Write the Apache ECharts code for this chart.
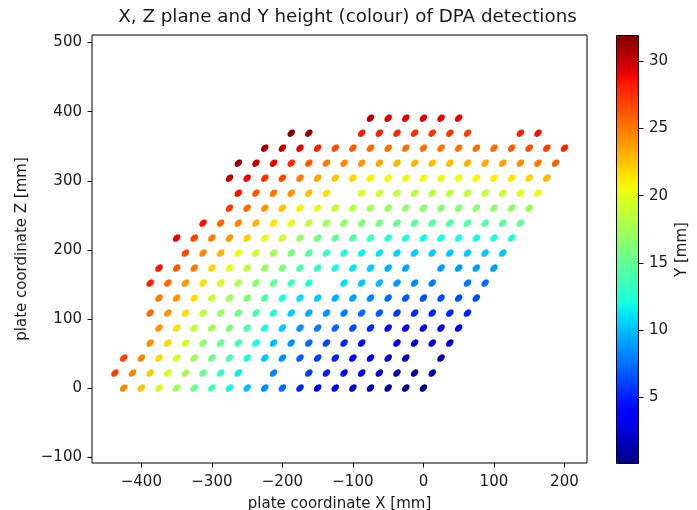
<!DOCTYPE html>
<html>
<head>
<meta charset="utf-8">
<script src="https://cdn.jsdelivr.net/npm/echarts@6/dist/echarts.min.js"></script>
<style>
html,body{margin:0;padding:0;background:#fff;}
#chart{width:697px;height:510px;}
</style>
</head>
<body>
<div id="chart"></div>
<script>
// ---- data (one entry per lattice row, bottom to top) ----
const rowZ = [0, 21.7, 43.4, 65.1, 86.8, 108.5, 130.2, 151.9, 173.6, 195.3, 217, 238.7, 260.4, 282.1, 303.8, 325.5, 347.2, 368.9, 390.6];

const rowX = [
  [-425,-400,-375,-350,-325,-300,-275,-250,-225,-200,-175,-150,-125,-100,-75,-50,-25,0],
  [-437.5,-412.5,-387.5,-362.5,-337.5,-312.5,-287.5,-262.5,-212.5,-162.5,-137.5,-112.5,-87.5,-62.5,-37.5,-12.5,12.5],
  [-425,-400,-375,-350,-325,-300,-275,-250,-225,-200,-175,-150,-125,-100,-75,-50,-25,25],
  [-387.5,-362.5,-337.5,-312.5,-287.5,-262.5,-237.5,-212.5,-187.5,-162.5,-137.5,-112.5,-87.5,-37.5,-12.5,12.5,37.5],
  [-375,-350,-325,-300,-275,-250,-225,-200,-175,-150,-125,-100,-75,-50,-25,0,25,50],
  [-387.5,-362.5,-337.5,-312.5,-287.5,-262.5,-237.5,-212.5,-187.5,-162.5,-137.5,-112.5,-87.5,-62.5,-37.5,-12.5,12.5,37.5,62.5],
  [-375,-350,-325,-300,-275,-250,-225,-200,-175,-150,-125,-100,-75,-50,-25,0,25,50,75],
  [-387.5,-362.5,-337.5,-312.5,-287.5,-262.5,-237.5,-212.5,-187.5,-162.5,-112.5,-87.5,-62.5,-37.5,-12.5,12.5,62.5,87.5],
  [-375,-350,-325,-300,-275,-250,-225,-200,-175,-150,-125,-100,-75,-50,-25,25,50,75,100],
  [-337.5,-312.5,-287.5,-262.5,-237.5,-212.5,-187.5,-162.5,-137.5,-112.5,-87.5,-62.5,-37.5,-12.5,12.5,37.5,62.5,87.5,112.5],
  [-350,-325,-300,-275,-250,-225,-200,-175,-150,-125,-100,-75,-50,-25,0,25,50,75,100,125],
  [-312.5,-287.5,-262.5,-237.5,-212.5,-187.5,-162.5,-137.5,-112.5,-87.5,-62.5,-37.5,-12.5,12.5,37.5,62.5,87.5,112.5,137.5],
  [-275,-250,-225,-200,-175,-150,-125,-100,-75,-50,-25,0,25,50,75,100,125,150],
  [-262.5,-237.5,-212.5,-187.5,-162.5,-137.5,-87.5,-62.5,-37.5,-12.5,12.5,37.5,62.5,87.5,112.5,137.5,162.5],
  [-275,-250,-225,-200,-175,-150,-125,-100,-75,-50,-25,0,25,50,75,100,125,150,175],
  [-262.5,-237.5,-212.5,-187.5,-162.5,-137.5,-112.5,-87.5,-62.5,-37.5,-12.5,12.5,37.5,62.5,87.5,112.5,137.5,162.5,187.5],
  [-225,-200,-175,-150,-125,-100,-75,-50,-25,0,25,50,75,100,125,150,175,200],
  [-187.5,-162.5,-87.5,-62.5,-37.5,-12.5,12.5,37.5,62.5,137.5,162.5],
  [-75,-50,-25,0,25,50]
];

const rowY = [
  [24.5,22.5,19.5,17.5,15.5,13.7,11.8,10,8.5,7.3,5.2,4,2.8,2,1.4,0.8,0.4,0.1],
  [27,24.5,22.3,19.7,17.5,15.2,13.2,11.5,8.3,6,5,3.9,2.8,2.2,1.4,1.1,0.8],
  [27,24.5,21.8,19.5,17.3,15.5,14,12.3,10.3,8.6,7,6,5,3.8,2.7,1.8,1.5,1.3],
  [24.3,21.8,19.3,16.8,15.3,13.8,12,10,8.6,7.3,6.3,5.3,4.3,2.9,2.3,2.2,2.1],
  [24,21.5,19,17.5,16,14,12.3,10.3,8.7,8,7.2,6.3,5.3,4,3.4,3.1,3,3],
  [25.5,24,21.5,18.5,17,15.5,14,12.5,10.5,9.5,8.8,8,7.5,6.8,5.8,5.3,5,5,5],
  [25,24,21.5,19,17.5,16,14.3,12.3,11,10.3,9.6,9,8.2,7.3,6.8,6.5,6.5,6.5,6.5],
  [28,25.5,24,21.5,19.5,18,16.5,15,13.5,12.5,11,10.3,9.8,8.8,8.3,8,7.8,7.5],
  [28.5,26,25,22,20,18.5,17,16,14,13.2,12.2,11.2,10.5,9.5,9.3,9,9,9,9],
  [26.5,24.5,23,20.5,19,17.5,16,14.5,13.3,12.5,11.7,11.2,10.7,10.5,10.4,10.3,10.3,10.3,10.3],
  [29,27,25,24,22,20,19,17,16,15,14.2,13.5,12.8,12.3,12,12,12,12,12.2,12.5],
  [28.5,25.5,24.5,23,21.5,20,18.5,17.5,16.8,16.2,15.7,15,14.6,14.4,14.4,14.4,14.5,14.6,15],
  [27,25.5,24,22.5,21,20,19,18.3,17.6,17,16.6,16.5,16.5,16.5,16.5,16.7,17,17.3],
  [28.5,26,25,24,22.5,21.5,19.8,19.2,18.8,18.6,18.5,18.5,18.6,18.8,19.2,19.6,20.2],
  [30.5,29,27.5,26.5,25,23.5,22.5,21.8,21,20.7,20.5,20.5,20.5,20.5,20.6,21,21.3,22,23],
  [31.5,30,29,27.8,26,25,24.5,24,23.5,23,23,22.7,22.7,23,23.3,23.7,24.3,25,25.7],
  [31,30,29,28,26.5,26,25.5,25.3,25.2,25.2,25.2,25.2,25.3,25.5,26,26.5,27,27.7],
  [31.9,31.3,28.3,28,27.7,27.5,27.3,27.2,27,28,28.5],
  [30.5,29.5,29.3,29.2,29.2,29]
];

const xTicks = [-400,-300,-200,-100,0,100,200];
const zTicks = [-100,0,100,200,300,400,500];
const cTicks = [5,10,15,20,25,30];
const xRange = [-470, 232];
const zRange = [-108.5, 511];
const cRange = [0.05, 31.95];

// ---- jet colormap ----
function seg(t, pts){
  for (let i=1;i<pts.length;i++){
    if (t <= pts[i][0]) {
      const a = pts[i-1], b = pts[i];
      return a[1] + (b[1]-a[1]) * (t-a[0])/(b[0]-a[0]);
    }
  }
  return pts[pts.length-1][1];
}
function jet(t){
  const r = seg(t, [[0,0],[0.35,0],[0.66,1],[0.89,1],[1,0.5]]);
  const g = seg(t, [[0,0],[0.125,0],[0.375,1],[0.64,1],[0.91,0],[1,0]]);
  const b = seg(t, [[0,0.5],[0.11,1],[0.34,1],[0.65,0],[1,0]]);
  const h = v => Math.round(v*255).toString(16).padStart(2,'0');
  return '#' + h(r) + h(g) + h(b);
}
const jetStops = [];
for (let i=0;i<=128;i++) jetStops.push(jet(i/128));

// ellipse marker outline (shape only)
let ell = 'path://';
for (let i=0;i<36;i++){
  const a = i/36*Math.PI*2;
  ell += (i===0?'M':'L') + (50+50*Math.cos(a)).toFixed(2) + ',' + (50+50*Math.sin(a)).toFixed(2) + ' ';
}
ell += 'Z';

const points = [];
rowX.forEach((xs, r) => xs.forEach((x, k) => points.push([x, rowZ[r], rowY[r][k]])));

const FONT = 'DejaVu Sans';
const TXT = '#1a1a1a';
const FS = 15;
const fmt = v => String(v).replace('-', '\u2212');

const chart = echarts.init(document.getElementById('chart'), null, {renderer:'canvas'});
chart.setOption({
  animation: false,
  backgroundColor: '#fff',
  textStyle: {fontFamily: FONT},
  grid: [
    {left: 92, top: 35, width: 495, height: 428, show: true, borderColor: '#000', borderWidth: 1,
     backgroundColor: 'transparent', containLabel: false, outerBoundsMode: 'none'},
    {left: 617, top: 35, width: 22, height: 429, show: false, containLabel: false, outerBoundsMode: 'none'}
  ],
  xAxis: [
    {gridIndex: 0, type: 'value', min: xRange[0], max: xRange[1],
     axisLine: {show: false, onZero: false},
     axisTick: {show: true, customValues: xTicks, length: 4.5, lineStyle: {color: '#000', width: 1}},
     axisLabel: {customValues: xTicks, formatter: fmt, color: TXT, fontSize: FS, fontFamily: FONT, margin: 12},
     splitLine: {show: false},
     name: 'plate coordinate X [mm]', nameLocation: 'middle', nameGap: 34,
     nameTextStyle: {color: TXT, fontSize: FS, fontFamily: FONT}},
    {gridIndex: 1, type: 'value', min: 0, max: 1, show: false}
  ],
  yAxis: [
    {gridIndex: 0, type: 'value', min: zRange[0], max: zRange[1],
     axisLine: {show: false, onZero: false},
     axisTick: {show: true, customValues: zTicks, length: 4.5, lineStyle: {color: '#000', width: 1}},
     axisLabel: {customValues: zTicks, formatter: fmt, color: TXT, fontSize: FS, fontFamily: FONT, margin: 10},
     splitLine: {show: false},
     name: 'plate coordinate Z [mm]', nameLocation: 'middle', nameRotate: 90, nameGap: 58,
     nameTextStyle: {color: TXT, fontSize: FS, fontFamily: FONT}},
    {gridIndex: 1, type: 'value', position: 'right', min: cRange[0], max: cRange[1],
     axisLine: {show: false, onZero: false},
     axisTick: {show: true, customValues: cTicks, length: 4.5, lineStyle: {color: '#000', width: 1}},
     axisLabel: {customValues: cTicks, color: TXT, fontSize: FS, fontFamily: FONT, margin: 10},
     splitLine: {show: false},
     name: 'Y [mm]', nameLocation: 'middle', nameRotate: 90, nameGap: 36,
     nameTextStyle: {color: TXT, fontSize: FS, fontFamily: FONT}}
  ],
  visualMap: {
    type: 'continuous', seriesIndex: 0, dimension: 2,
    min: cRange[0], max: cRange[1], calculable: false, realtime: false,
    inRange: {color: jetStops},
    orient: 'vertical', left: 617, top: 35, padding: 0,
    itemWidth: 22, itemHeight: 429, text: null, hoverLink: false
  },
  graphic: [
    {type: 'rect', z: 100, silent: true,
     shape: {x: 616.5, y: 35.5, width: 22, height: 428},
     style: {fill: null, stroke: '#000', lineWidth: 1}},
    {type: 'text', z: 100, silent: true, x: 347.5, y: 17.5,
     style: {text: 'X, Z plane and Y height (colour) of DPA detections',
             font: '18.3px "DejaVu Sans"', fill: TXT,
             textAlign: 'center', textVerticalAlign: 'middle', align: 'center', verticalAlign: 'middle'}}
  ],
  series: [{
    type: 'scatter', xAxisIndex: 0, yAxisIndex: 0,
    symbol: ell,
    symbolSize: [8.8, 6], symbolRotate: 45,
    itemStyle: {opacity: 1},
    data: points
  }]
});
</script>
</body>
</html>
